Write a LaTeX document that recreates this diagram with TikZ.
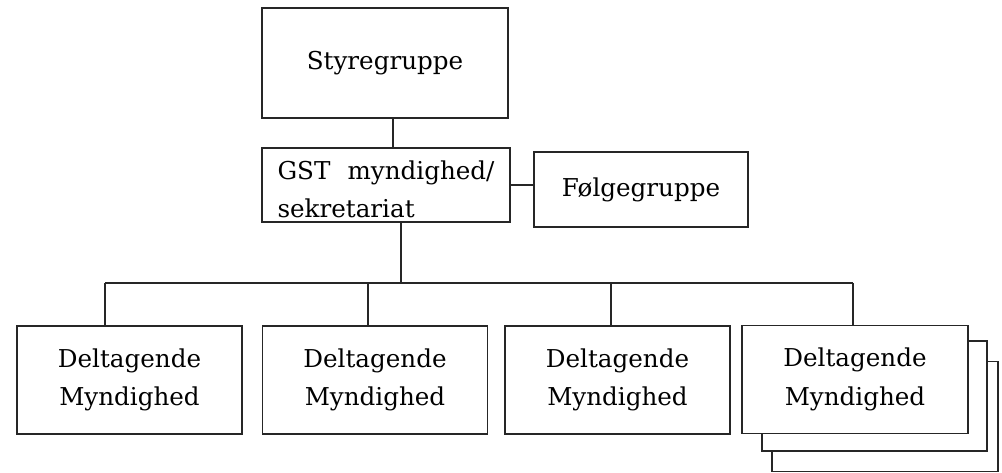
\documentclass[tikz,border=0pt]{standalone}
\usepackage{fontspec}
\setmainfont{DejaVu Serif}

\tikzset{
  orgbox/.style={draw=black!85, line width=0.75pt, fill=white, inner sep=0pt,
    minimum width=4.5cm, minimum height=2.16cm, align=center},
  orgline/.style={draw=black!85, line width=0.75pt}
}

\begin{document}
\begin{tikzpicture}[x=0.02cm, y=-0.02cm, font=\fontsize{14}{22}\selectfont]
                \useasboundingbox (0,0) rectangle (1002,473);

                \node[orgbox, minimum width=4.92cm, minimum height=2.2cm] (sty) at (385,63) {Styregruppe};
                \node[orgbox, minimum width=4.96cm, minimum height=1.48cm, text width=4.34cm, text height=0.55cm, align=left] (gst) at (386,185) {GST\hfill myndighed/\\sekretariat};
                \node[orgbox, minimum width=4.28cm, minimum height=1.5cm] (folge) at (641,189.5) {Følgegruppe};

                % stak bag den sidste boks
                \node[orgbox, minimum width=4.52cm, minimum height=2.2cm] (b4c) at (885,416.5) {};
                \node[orgbox, minimum width=4.5cm, minimum height=2.2cm] (b4b) at (874.5,396) {};

                \node[orgbox] (b1) at (129.5,380) {Deltagende\\Myndighed};
                \node[orgbox] (b2) at (375,380) {Deltagende\\Myndighed};
                \node[orgbox] (b3) at (617.5,380) {Deltagende\\Myndighed};
                \node[orgbox, minimum width=4.52cm] (b4) at (855,379.5) {Deltagende\\Myndighed};

                \coordinate (top) at (393,0);
                \coordinate (bus) at (401,283);
                \draw[orgline] (sty.south -| top) -- (gst.north -| top);
                \draw[orgline] (gst.south -| bus) -- (bus);
                \draw[orgline] (gst.east) -- (folge.west |- gst.east);

                \foreach \i/\x in {1/105,2/368,3/611,4/853} {
                    \coordinate (d\i) at (\x,283);
                    \draw[orgline] (d\i) -- (d\i |- b\i.north);
                }
                \draw[orgline] (d1) -- (d4);
\end{tikzpicture}
\end{document}
